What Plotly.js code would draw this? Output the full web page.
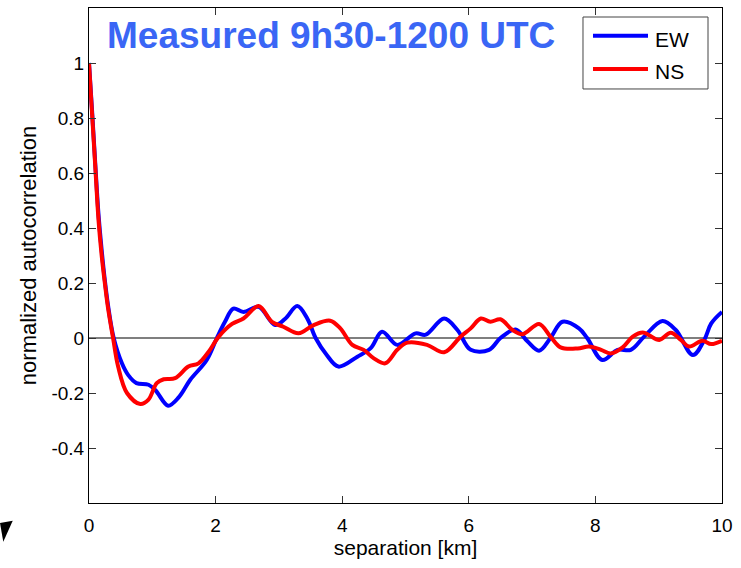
<!DOCTYPE html>
<html>
<head>
<meta charset="utf-8">
<script src="https://cdn.plot.ly/plotly-3.0.1.min.js"></script>
<style>html,body{margin:0;padding:0;background:#fff;}#chart{width:741px;height:568px;}</style>
</head>
<body>
<div id="chart"></div>
<script>
// separation [km] and normalized autocorrelation
const ewX = [0, 0.05, 0.1, 0.15, 0.2, 0.25, 0.3, 0.39, 0.52, 0.62, 0.75, 0.94, 1.05, 1.25, 1.42, 1.6, 1.86, 2.02, 2.15, 2.28, 2.44, 2.68, 2.94, 3.1, 3.29, 3.45, 3.58, 3.75, 3.94, 4.24, 4.45, 4.63, 4.87, 5.16, 5.32, 5.61, 5.82, 6.03, 6.32, 6.5, 6.74, 6.93, 7.11, 7.29, 7.48, 7.74, 7.87, 8.11, 8.35, 8.56, 8.77, 9.06, 9.27, 9.54, 9.72, 9.83, 10];
const ewY = [1, 0.82, 0.63, 0.45, 0.32, 0.21, 0.12, 0, -0.092, -0.135, -0.164, -0.17, -0.19, -0.246, -0.215, -0.152, -0.08, 0, 0.06, 0.107, 0.095, 0.113, 0.047, 0.07, 0.116, 0.07, 0, -0.06, -0.104, -0.068, -0.037, 0.023, -0.025, 0.017, 0.012, 0.071, 0.029, -0.043, -0.043, 0, 0.031, -0.013, -0.046, 0, 0.059, 0.035, 0, -0.08, -0.043, -0.043, 0.005, 0.062, 0.029, -0.062, -0.007, 0.053, 0.095];
const nsX = [0, 0.05, 0.1, 0.15, 0.2, 0.25, 0.3, 0.38, 0.46, 0.6, 0.81, 0.94, 1.07, 1.18, 1.36, 1.57, 1.73, 1.89, 2.05, 2.26, 2.44, 2.68, 2.89, 3.07, 3.31, 3.55, 3.81, 3.97, 4.16, 4.34, 4.5, 4.68, 4.87, 5.03, 5.34, 5.61, 5.87, 6.03, 6.19, 6.34, 6.5, 6.69, 6.85, 7.11, 7.29, 7.45, 7.72, 7.9, 8.09, 8.24, 8.43, 8.59, 8.75, 8.85, 9.01, 9.19, 9.35, 9.48, 9.69, 9.83, 10];
const nsY = [1, 0.81, 0.62, 0.43, 0.3, 0.2, 0.11, 0, -0.104, -0.2, -0.24, -0.224, -0.164, -0.15, -0.146, -0.104, -0.092, -0.05, 0.005, 0.051, 0.071, 0.116, 0.059, 0.041, 0.017, 0.047, 0.063, 0.035, -0.025, -0.043, -0.074, -0.092, -0.043, -0.017, -0.025, -0.052, 0.005, 0.035, 0.071, 0.059, 0.068, 0.029, 0.014, 0.051, 0.005, -0.034, -0.038, -0.031, -0.043, -0.056, -0.034, 0.005, 0.02, 0.01, -0.007, 0.019, -0.007, -0.031, -0.01, -0.022, -0.01];
const seriesNames = ['EW', 'NS'];
const seriesColors = ['#0000ff', '#ff0000'];
const xTicks = [0, 2, 4, 6, 8, 10];
const yTicks = [-0.4, -0.2, 0, 0.2, 0.4, 0.6, 0.8, 1];
const yTickText = ['-0.4', '-0.2', '0', '0.2', '0.4', '0.6', '0.8', '1'];
const titleText = 'Measured 9h30-1200 UTC';

const font = 'Liberation Sans, Arial, Helvetica, sans-serif';

const traces = [
  {x: ewX, y: ewY, name: seriesNames[0], mode: 'lines', showlegend: false, line: {color: seriesColors[0], width: 4, shape: 'spline', smoothing: 1}},
  {x: nsX, y: nsY, name: seriesNames[1], mode: 'lines', showlegend: false, line: {color: seriesColors[1], width: 4, shape: 'spline', smoothing: 1}}
];

const axisCommon = {
  showgrid: false, zeroline: false, showline: true, linecolor: '#000', linewidth: 1,
  mirror: 'ticks', ticks: 'inside', ticklen: 7, tickcolor: '#333', tickwidth: 1,
  tickfont: {family: font, size: 19, color: '#000'}
};

// manual legend (box, sample lines, labels) in paper coordinates
const legendRows = [{yLine: 0.9440, yText: 0.9354}, {yLine: 0.8768, yText: 0.8717}];
const legendShapes = [
  {type: 'rect', xref: 'paper', yref: 'paper', x0: 0.7804, x1: 0.9779, y0: 0.8364, y1: 0.9818, line: {color: '#444', width: 1}, fillcolor: '#fff'}
];
const legendAnn = [];
seriesNames.forEach((n, i) => {
  legendShapes.push({type: 'line', xref: 'paper', yref: 'paper', x0: 0.7962, x1: 0.8831, y0: legendRows[i].yLine, y1: legendRows[i].yLine, line: {color: seriesColors[i], width: 4}});
  legendAnn.push({text: n, xref: 'paper', yref: 'paper', x: 0.8915, y: legendRows[i].yText, xanchor: 'left', yanchor: 'middle', showarrow: false, font: {family: font, size: 21, color: '#000'}});
});

const layout = {
  width: 741, height: 568,
  margin: {l: 89, r: 19, t: 8, b: 65},
  paper_bgcolor: '#fff', plot_bgcolor: '#fff',
  showlegend: false,
  xaxis: Object.assign({}, axisCommon, {
    range: [0, 10], tickvals: xTicks, ticktext: xTicks.map(String), ticklabelstandoff: 5,
    title: {text: 'separation [km]', font: {family: font, size: 21, color: '#000'}, standoff: 4}
  }),
  yaxis: Object.assign({}, axisCommon, {
    range: [-0.6, 1.2], tickvals: yTicks, ticktext: yTickText,
    title: {text: 'normalized autocorrelation', font: {family: font, size: 22, color: '#000'}, standoff: 8}
  }),
  shapes: [
    {type: 'line', xref: 'paper', yref: 'y', x0: 0, x1: 1, y0: 0, y1: 0, line: {color: '#000', width: 1.2}, layer: 'below'},
    {type: 'path', xref: 'paper', yref: 'paper', path: 'M -0.1406 -0.0404 L -0.1205 -0.0358 L -0.1354 -0.0782 Z', fillcolor: '#000', line: {color: '#000', width: 0}}
  ].concat(legendShapes),
  annotations: [
    {text: '<b>' + titleText + '</b>', xref: 'paper', yref: 'paper', x: 0.382, y: 0.945, xanchor: 'center', yanchor: 'middle', showarrow: false, font: {family: font, size: 37, color: '#3a66f5'}}
  ].concat(legendAnn)
};

Plotly.newPlot('chart', traces, layout, {displayModeBar: false, staticPlot: true});
</script>
</body>
</html>
